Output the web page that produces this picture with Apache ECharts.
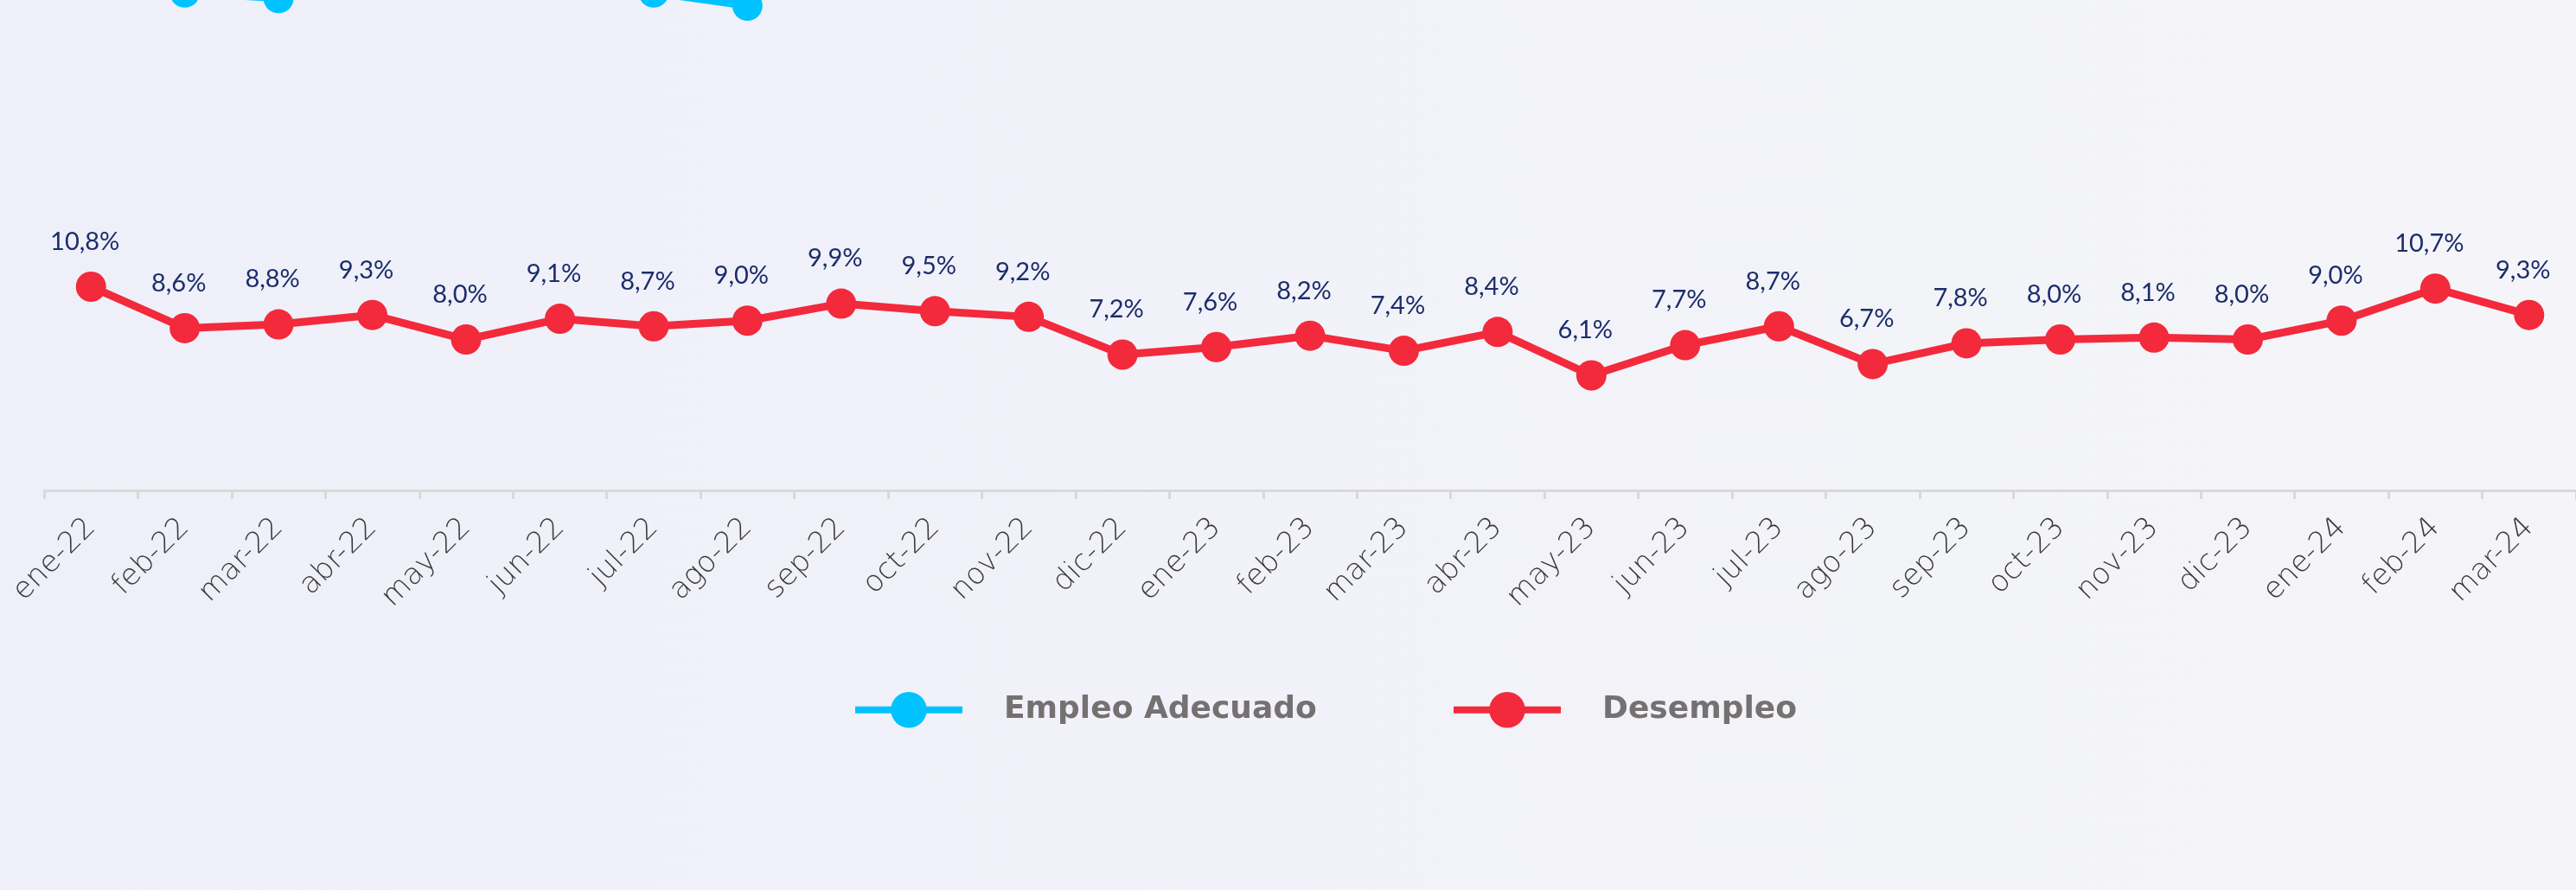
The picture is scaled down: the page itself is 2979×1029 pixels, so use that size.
<!DOCTYPE html>
<html>
<head>
<meta charset="utf-8">
<script src="https://cdn.jsdelivr.net/npm/echarts@6/dist/echarts.min.js"></script>
<style>
  html, body { margin: 0; padding: 0; }
  #chart { width: 2979px; height: 1029px; background: linear-gradient(90deg, #eeeff8 0%, #f1f1fa 40%, #f3f4f8 75%, #f5f5f9 100%); }
</style>
</head>
<body>
<div id="chart"></div>
<script>
// Categories (x axis)
const months = ['ene-22','feb-22','mar-22','abr-22','may-22','jun-22','jul-22','ago-22','sep-22','oct-22','nov-22','dic-22',
                'ene-23','feb-23','mar-23','abr-23','may-23','jun-23','jul-23','ago-23','sep-23','oct-23','nov-23','dic-23',
                'ene-24','feb-24','mar-24'];
// Desempleo (%)
const desempleo = [10.8, 8.6, 8.8, 9.3, 8.0, 9.1, 8.7, 9.0, 9.9, 9.5, 9.2, 7.2,
                   7.6, 8.2, 7.4, 8.4, 6.1, 7.7, 8.7, 6.7, 7.8, 8.0, 8.1, 8.0,
                   9.0, 10.7, 9.3];
// Empleo Adecuado (%): only the points visible at the top edge of the cropped picture can be read;
// the rest lie above the visible area and are left empty.
const empleoAdecuado = [null, 26.4, 26.1, null, null, null, 26.4, 25.7, null, null, null, null,
                        null, null, null, null, null, null, null, null, null, null, null, null,
                        null, null, null];

const legendText = { fontFamily: 'DejaVu Sans', fontWeight: 'bold', fontSize: 36, color: '#767171', padding: [0, 0, 0, 43] };

const chart = echarts.init(document.getElementById('chart'));
chart.setOption({
  backgroundColor: 'transparent',
  animation: false,
  grid: { left: 51, top: 0, width: 2955, bottom: 462, containLabel: false },
  legend: [
    {
      data: ['Empleo Adecuado'], left: 985, top: 800, padding: 0, itemWidth: 124, itemHeight: 52,
      lineStyle: { width: 8 },
      textStyle: legendText
    },
    {
      data: ['Desempleo'], left: 1677, top: 800, padding: 0, itemWidth: 124, itemHeight: 52,
      lineStyle: { width: 8 },
      textStyle: legendText
    }
  ],
  xAxis: {
    type: 'category',
    data: months,
    boundaryGap: true,
    axisLine: { show: true, lineStyle: { color: '#d9d9d9', width: 3 } },
    axisTick: { show: true, length: 10, lineStyle: { color: '#d9d9d9', width: 3 } },
    axisLabel: { rotate: 45, margin: 38, fontFamily: 'DejaVu Sans', fontWeight: 200, fontSize: 34, color: '#3a3a3a', interval: 0 }
  },
  yAxis: {
    type: 'value', min: 0, max: 26,
    show: false,
    splitLine: { show: false }
  },
  series: [
    {
      name: 'Empleo Adecuado',
      type: 'line',
      data: empleoAdecuado,
      symbol: 'circle', symbolSize: 35,
      lineStyle: { width: 9, color: '#00c2ff' },
      itemStyle: { color: '#00c2ff' },
      connectNulls: false,
      clip: false
    },
    {
      name: 'Desempleo',
      type: 'line',
      data: desempleo,
      symbol: 'circle', symbolSize: 35,
      lineStyle: { width: 9, color: '#f22a3b' },
      itemStyle: { color: '#f22a3b' },
      label: {
        show: true, position: 'top', distance: 20, offset: [-7, 0],
        fontFamily: 'Lato', fontSize: 29, color: '#1b2d6b',
        formatter: p => p.value.toFixed(1).replace('.', ',') + '%'
      }
    }
  ]
});
</script>
</body>
</html>
